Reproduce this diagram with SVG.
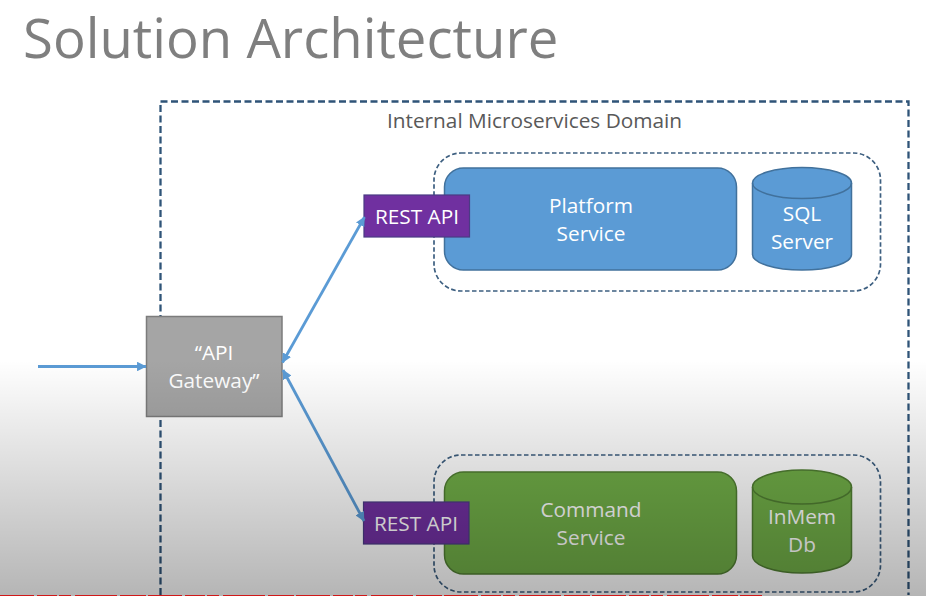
<svg xmlns="http://www.w3.org/2000/svg" width="926" height="596" viewBox="0 0 926 596">
<style>
text{font-family:"Open Sans","Noto Sans","Liberation Sans",sans-serif;text-anchor:middle;fill:#fff;font-size:20.800px}
.dash{fill:none;stroke:#2f5478}
.zone{stroke-width:1.700;stroke-dasharray:4.500 2.500;stroke:#3d5f80}
.conn{stroke:#5b9bd5;stroke-width:2.800;fill:none}
.blue{fill:#5b9bd5;stroke:#41719c;stroke-width:1.500}
.green{fill:#70ad47;stroke:#507e32;stroke-width:1.500}
.rim{fill:none}
.rest{stroke-width:1.200;fill:#7030a0;stroke:#4a3b84}
.restlabel{font-size:20.800px}
</style>
<defs>
<linearGradient id="shade" x1="0" y1="0" x2="0" y2="1"><stop offset="0" stop-color="#000" stop-opacity="0"/><stop offset="1" stop-color="#000" stop-opacity=".29"/></linearGradient>
<marker id="a" markerWidth="3.400" markerHeight="3.400" refX="3.200" refY="1.700" orient="auto-start-reverse" markerUnits="strokeWidth"><path d="M0 0L3.400 1.700L0 3.400Z" fill="#5b9bd5"/></marker>
</defs>
<rect width="926" height="596" fill="#fff"/>
<text x="23" y="58" style="text-anchor:start;font-size:54.500px;fill:#7f7f7f">Solution Architecture</text>
<g id="domain"><path class="dash" stroke-width="2.300" stroke-dasharray="7 3.500" d="M160.500 595V101.500H908.500V595"/>
<text x="534.500" y="128" style="fill:#595959">Internal Microservices Domain</text></g>
<g id="platform-zone"><rect class="dash zone" x="434" y="153" width="446.500" height="138" rx="27"/></g>
<g id="command-zone"><rect class="dash zone" x="434" y="455" width="446.500" height="137" rx="27"/></g>
<g id="platform-service"><rect class="blue" x="444.500" y="168" width="292" height="102" rx="19"/><text x="591" y="212.500">Platform</text><text x="591" y="241">Service</text></g>
<g id="sql-server"><path class="blue" d="M752.500 183A49.500 15.500 0 0 1 851.500 183V254.500A49.500 15.500 0 0 1 752.500 254.500Z"/><path class="blue rim" d="M752.500 183A49.500 15.500 0 0 0 851.500 183"/><text x="802" y="221">SQL</text><text x="802" y="249">Server</text></g>
<g id="command-service"><rect class="green" x="444.500" y="472" width="292" height="102" rx="19"/><text x="591" y="517">Command</text><text x="591" y="545">Service</text></g>
<g id="inmem-db"><path class="green" d="M752.500 487A49.500 17 0 0 1 851.500 487V556A49.500 17 0 0 1 752.500 556Z"/><path class="green rim" d="M752.500 487A49.500 17 0 0 0 851.500 487"/><text x="802" y="524">InMem</text><text x="802" y="552">Db</text></g>
<g id="rest-api-top"><rect class="rest" x="364" y="195" width="105.500" height="42"/><text class="restlabel" x="417" y="224">REST API</text></g>
<g id="rest-api-bottom"><rect class="rest" x="363.500" y="502" width="105.500" height="42"/><text class="restlabel" x="416" y="530.500">REST API</text></g>
<g id="api-gateway"><rect x="146.500" y="316.500" width="135.500" height="100" fill="#a5a5a5" stroke="#7c7c7c" stroke-width="1.500"/><text x="214" y="360">“API</text><text x="214" y="388">Gateway”</text></g>
<g id="connectors">
<path class="conn" marker-end="url(#a)" d="M38 366.500H146"/>
<path class="conn" marker-start="url(#a)" marker-end="url(#a)" d="M282.500 362.500L364.500 217"/>
<path class="conn" marker-start="url(#a)" marker-end="url(#a)" d="M283 370L364 521"/>
</g>
<rect y="360" width="926" height="236" fill="url(#shade)"/>
<path d="M0 595.500H762" stroke="#d01818" stroke-width="1.200" stroke-dasharray="34 3 20 2 12 4 42 3 26 2"/>
</svg>
